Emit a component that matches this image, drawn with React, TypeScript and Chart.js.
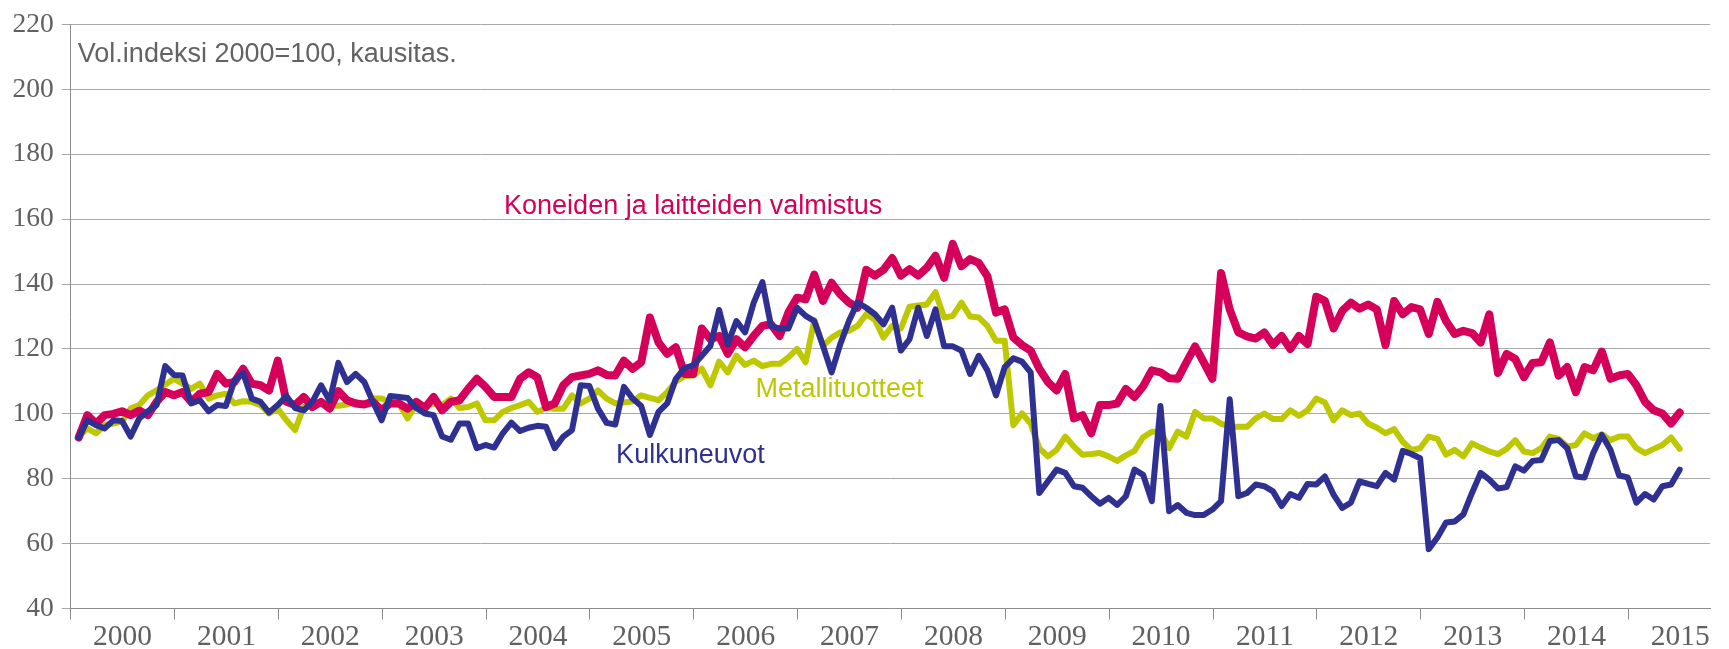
import React, { useEffect, useRef } from 'react';
import { Chart, registerables } from 'chart.js';

Chart.register(...registerables);

// Years shown on the x axis (monthly data, Jan 2000 = index 0)
const yearLabels = ['2000', '2001', '2002', '2003', '2004', '2005', '2006', '2007', '2008', '2009', '2010', '2011', '2012', '2013', '2014', '2015'];

// Koneiden ja laitteiden valmistus (monthly, 2000-01 .. 2015-06)
const koneet = [
  92.7, 99.6, 97, 99.6, 100, 100.8, 99.6, 101, 99.6, 103.7, 106.7, 105.7,
  106.7, 103.7, 106.2, 106.7, 112.3, 109.3, 109.8, 113.9, 109.3, 108.8, 107.2, 116.4,
  103.7, 102.7, 105.2, 102.1, 103.7, 101.6, 107, 104.2, 103.2, 102.9, 103.7, 101.1,
  103.2, 103.2, 101.6, 103.7, 101.8, 105.2, 101.1, 103.7, 104.2, 107.7, 110.8, 108.3,
  105.2, 105.2, 105.2, 110.8, 112.8, 111.3, 102.1, 103.2, 108.8, 111.3, 111.8, 112.3,
  113.4, 112, 111.8, 116.4, 113.9, 115.9, 129.7, 122, 118.5, 120.5, 112.3, 112.3,
  126.3, 123, 124, 118.5, 123, 120.5, 124, 127.1, 127.6, 124, 131.2, 135.8,
  135.3, 142.9, 134.8, 140.4, 136.8, 134.3, 132.7, 144.4, 142.6, 144.4, 148, 142.6,
  144.6, 142.6, 145, 148.7, 141.9, 152.4, 145.5, 147.7, 146.5, 142.4, 131.2, 132.2,
  123.5, 121.2, 119.5, 113.9, 109.8, 107.2, 112.3, 98.6, 99.6, 94, 102.7, 102.7,
  103.2, 107.7, 105.2, 108.5, 113.4, 112.8, 111, 110.8, 115.9, 120.8, 115.9, 110.8,
  143.4, 132.2, 125.1, 123.9, 123.2, 125.1, 121.2, 124, 120, 124, 121.5, 136.1,
  134.8, 126.3, 131.7, 134.3, 132.4, 133.7, 132.2, 121.2, 134.8, 130.7, 132.9, 132.2,
  124.6, 134.5, 128.6, 124.6, 125.6, 124.9, 122, 130.7, 112.6, 118.5, 116.9, 111.3,
  115.7, 115.9, 122, 111.8, 114.4, 106.7, 114.4, 113.4, 119.2, 110.8, 111.8, 112.3,
  108.8, 103.7, 101.1, 100.1, 97, 100.4,
];

// Metallituotteet
const metalli = [
  93, 95.5, 94, 96.5, 97, 97.6, 101.6, 102.7, 105.7, 107.2, 109, 110.8,
  109.3, 107.7, 109.3, 104.7, 105.7, 106.2, 103.2, 103.9, 103.7, 102.7, 100.1, 101.6,
  98, 95, 102.1, 103.2, 103.7, 102.7, 102.5, 102.9, 103.7, 102.7, 104.7, 104.7,
  103.7, 103.2, 98.6, 102.9, 102.4, 103.2, 102.7, 104.7, 101.8, 102.1, 103.2, 98,
  98, 100.6, 101.8, 102.7, 103.7, 100.6, 101.8, 101.6, 101.6, 105.7, 103.2, 104.7,
  107.2, 104.7, 103.2, 103.5, 103.9, 105.7, 104.9, 104.2, 106.7, 110, 111.6, 111.8,
  113.9, 108.8, 116.1, 112.8, 117.9, 115.1, 116.4, 114.7, 115.4, 115.4, 117.4, 120,
  115.9, 128.9, 121, 123.5, 125.1, 125.6, 127.1, 130.7, 129, 123.5, 127.1, 126.3,
  133, 133.4, 133.7, 137.5, 129.7, 130.2, 134.3, 130, 129.7, 127.1, 122.5, 122.5,
  96.5, 100.1, 97, 89.4, 86.9, 88.9, 93, 89.9, 87.4, 87.6, 87.9, 86.9,
  85.5, 87.2, 88.6, 92.8, 94.5, 94.5, 89.4, 94.5, 93, 100.6, 98.6, 98.6,
  97, 96, 96, 96, 98.6, 100.1, 98.4, 98.4, 101.1, 99.4, 101.1, 104.7,
  103.5, 98, 101.1, 99.6, 100.1, 97, 95.7, 94, 95.3, 91.4, 88.9, 89.4,
  93, 92.3, 87.4, 88.9, 86.9, 90.9, 89.6, 88.4, 87.6, 89.2, 91.9, 88.4,
  87.9, 89.4, 93, 92.3, 89.9, 90.4, 94, 92.5, 93.7, 91.9, 93, 93,
  89.4, 87.9, 89.2, 90.4, 92.7, 89.2,
];

// Kulkuneuvot
const kulku = [
  92.7, 98, 96.5, 95.5, 98, 97.8, 93, 98.6, 100.8, 102.7, 114.7, 112,
  111.8, 103.2, 104.2, 100.8, 102.7, 102.4, 110.3, 112.6, 104.7, 103.7, 100.4, 102.7,
  105.5, 101.8, 101.1, 103.7, 108.8, 104, 115.7, 109.8, 112.3, 109.8, 103.7, 98,
  105.5, 105.2, 104.9, 101.8, 100.1, 99.6, 93, 92, 97, 97, 89.4, 90.4,
  89.6, 94, 97.3, 94.7, 95.7, 96.3, 96, 89.4, 93, 95, 108.8, 108.6,
  101.6, 97.2, 96.7, 108.3, 104.7, 102.4, 93.5, 100.6, 103.2, 110.8, 114.1, 114.9,
  117.9, 121, 132, 121.5, 128.6, 125.1, 134.3, 140.6, 127.1, 126.3, 126.3, 132.7,
  130.2, 128.6, 121, 112.8, 121.5, 128.6, 134.3, 132.7, 130.7, 127.6, 132.7, 119.5,
  123, 132.7, 124, 132.2, 120.8, 120.8, 119.5, 112.3, 117.9, 113.4, 105.7, 114.4,
  117.1, 116.1, 112.8, 75.6, 79.2, 82.8, 81.8, 77.7, 77.2, 74.6, 72.3, 74.1,
  71.9, 74.6, 82.8, 81.2, 73.1, 102.4, 70, 71.9, 69.5, 68.8, 68.8, 70.5,
  73.1, 104.5, 74.6, 75.6, 78.2, 77.7, 76.1, 71.6, 75.3, 74.1, 78.4, 78.2,
  80.7, 75.1, 71, 72.6, 79.2, 78.4, 77.7, 81.8, 79.7, 88.6, 87.6, 86.3,
  58.3, 61.9, 66.5, 66.8, 69, 75.6, 81.8, 79.7, 77, 77.4, 83.8, 82.5,
  85.5, 85.8, 91.6, 91.9, 89.4, 80.7, 80.4, 87.9, 93.5, 88.9, 81, 80.4,
  72.6, 75.3, 73.6, 77.7, 78.2, 82.8,
];

const W = 1729;
const H = 649;

const TEXT_FONT = '"Liberation Sans", Arial, sans-serif';
const AXIS_FONT = '"Liberation Serif", "Times New Roman", serif';

export default function App() {
  const ref = useRef<HTMLCanvasElement>(null);

  useEffect(() => {
    if (!ref.current) return;
    const toPts = (arr: number[]) => arr.map((v, i) => ({ x: i, y: v }));

    const annotations = [
      { text: 'Vol.indeksi 2000=100, kausitas.', x: -0.1, y: 208.5, color: '#636363' },
      { text: 'Koneiden ja laitteiden valmistus', x: 49.15, y: 161.6, color: '#d4005a' },
      { text: 'Metallituotteet', x: 78.2, y: 105.1, color: '#bec800' },
      { text: 'Kulkuneuvot', x: 62.1, y: 84.9, color: '#2e3192' },
    ];

    const annPlugin = {
      id: 'annotationsText',
      afterDatasetsDraw(chart: any) {
        const { ctx, scales } = chart;
        ctx.save();
        ctx.font = `27px ${TEXT_FONT}`;
        ctx.textBaseline = 'alphabetic';
        ctx.textAlign = 'left';
        for (const a of annotations) {
          ctx.fillStyle = a.color;
          ctx.fillText(a.text, scales.x.getPixelForValue(a.x), scales.y.getPixelForValue(a.y));
        }
        ctx.restore();
      },
    };

    const common = {
      pointRadius: 0,
      pointHoverRadius: 0,
      borderJoinStyle: 'round' as const,
      borderCapStyle: 'round' as const,
      tension: 0,
      fill: false,
    };

    const chart = new Chart(ref.current, {
      type: 'line',
      data: {
        datasets: [
          { label: 'Kulkuneuvot', data: toPts(kulku), borderColor: '#2e3192', borderWidth: 6, order: 0, ...common },
          { label: 'Koneiden ja laitteiden valmistus', data: toPts(koneet), borderColor: '#d4005a', borderWidth: 8, order: 1, ...common },
          { label: 'Metallituotteet', data: toPts(metalli), borderColor: '#bec800', borderWidth: 6, order: 2, ...common },
        ],
      },
      options: {
        animation: false,
        responsive: false,
        layout: { padding: { top: 20.7, right: 19, left: 0, bottom: 0 } },
        plugins: { legend: { display: false }, tooltip: { enabled: false } },
        scales: {
          x: {
            type: 'linear',
            min: -0.925,
            max: 188.5,
            afterBuildTicks: (s: any) => {
              s.ticks = yearLabels.map((_, i) => ({ value: i * 12 - 0.925 }));
            },
            ticks: {
              callback: (_v: any, i: number) => yearLabels[i],
              labelOffset: 51.9,
              maxRotation: 0,
              autoSkip: false,
              padding: 0,
              font: { family: AXIS_FONT, size: 29.5 },
              color: '#606060',
            },
            grid: { drawOnChartArea: false, tickLength: 11, color: '#8c8c8c' },
            border: { color: '#8c8c8c' },
            afterFit: (s: any) => {
              s.height = 40.5;
            },
          },
          y: {
            min: 40,
            max: 220,
            ticks: {
              stepSize: 20,
              padding: 8,
              font: { family: AXIS_FONT, size: 27.5 },
              color: '#606060',
            },
            grid: { color: '#a8a8a8', tickLength: 9 },
            border: { color: '#8c8c8c' },
            afterFit: (s: any) => {
              s.width = 70.7;
            },
          },
        },
      },
      plugins: [annPlugin],
    });

    return () => chart.destroy();
  }, []);

  return (
    <div style={{ position: 'fixed', left: 0, top: 0, width: W, height: H, background: '#ffffff' }}>
      <canvas ref={ref} width={W} height={H} style={{ width: W, height: H, display: 'block' }} />
    </div>
  );
}
